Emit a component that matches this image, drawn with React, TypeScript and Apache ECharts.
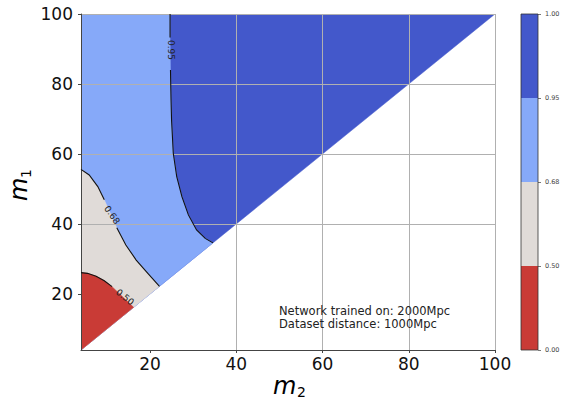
import React, { useEffect, useRef } from "react";
import * as echarts from "echarts";

// ---- data ----
const M_MIN = 4;
const M_MAX = 100;
const xTicks = [20, 40, 60, 80, 100];
const yTicks = [20, 40, 60, 80, 100];

const levelLabels = ["0.00", "0.50", "0.68", "0.95", "1.00"];
// band colours, lowest level first
const bandColors = ["#c93b36", "#e0dbd8", "#86a9f9", "#4358cb"];

// contour curves as [m2, m1] points
const contour95 = [
  [24.65, 100], [24.65, 93.3], [24.75, 84], [24.88, 75.4], [25.0, 69.7],
  [25.4, 60.2], [26.2, 53.5], [27.4, 47.8], [28.9, 42.6], [30.8, 38.3],
  [32.8, 35.9], [34.6, 34.6],
];
const contour68 = [
  [4, 55.6], [5.9, 54], [7.9, 50.7], [9.4, 46.9], [12.3, 38.9],
  [14.4, 34], [16.8, 29.7], [19.5, 25.9], [22.2, 22.2],
];
const contour50 = [
  [4, 26.1], [5.5, 25.9], [7.5, 25.1], [9.4, 23.8], [11.2, 22.1], [16.2, 16.2],
];

const contourLabels = [
  { text: "0.95", curve: contour95, gapFrom: 1, gapTo: 2, at: [24.9, 89.7], angle: -90 },
  { text: "0.68", curve: contour68, gapFrom: 3, gapTo: 4, at: [11.2, 42.6], angle: -55 },
  { text: "0.50", curve: contour50, gapFrom: 4, gapTo: 5, at: [14.2, 19.1], angle: -39 },
];

const annotation = ["Network trained on: 2000Mpc", "Dataset distance: 1000Mpc"];

const FONT = "DejaVu Sans";

// filled regions, drawn in order (each covers the previous)
const regions = [
  { color: bandColors[3], poly: [[M_MIN, M_MIN], [M_MIN, M_MAX], [M_MAX, M_MAX]] },
  { color: bandColors[2], poly: [[M_MIN, M_MIN], [M_MIN, M_MAX], ...contour95] },
  { color: bandColors[1], poly: [[M_MIN, M_MIN], ...contour68] },
  { color: bandColors[0], poly: [[M_MIN, M_MIN], ...contour50] },
];

export default function App() {
  const ref = useRef<HTMLDivElement>(null);
  useEffect(() => {
    if (!ref.current) return;
    const chart = echarts.init(ref.current, null, { renderer: "svg" });
    const option: any = {
      animation: false,
      backgroundColor: "#ffffff",
      grid: [
        { left: 81, top: 14, width: 414, height: 336 },
        { left: 521, top: 14, width: 17, height: 336 },
      ],
      xAxis: [
        {
          type: "value", gridIndex: 0, min: M_MIN, max: M_MAX, z: 3,
          axisLine: { show: true, lineStyle: { color: "#444", width: 1 } },
          axisTick: { show: true, length: 3, customValues: xTicks, lineStyle: { color: "#444" } },
          axisLabel: {
            customValues: xTicks, fontSize: 17, color: "#111", margin: 5, fontFamily: FONT,
            formatter: (v: number) => (xTicks.includes(v) ? String(v) : ""),
          },
          splitLine: { show: true, showMinLine: false, lineStyle: { color: "#b0b0b0", width: 1 } },
        },
        { type: "category", gridIndex: 1, data: ["c"], show: false },
      ],
      yAxis: [
        {
          type: "value", gridIndex: 0, min: M_MIN, max: M_MAX, z: 3,
          axisLine: { show: true, lineStyle: { color: "#444", width: 1 } },
          axisTick: { show: true, length: 3, customValues: yTicks, lineStyle: { color: "#444" } },
          axisLabel: {
            customValues: yTicks, fontSize: 17, color: "#111", margin: 8, fontFamily: FONT,
            formatter: (v: number) => (yTicks.includes(v) ? String(v) : ""),
          },
          splitLine: { show: true, showMinLine: false, lineStyle: { color: "#b0b0b0", width: 1 } },
        },
        {
          type: "value", gridIndex: 1, min: 0, max: 4, interval: 1, position: "right",
          axisLine: { show: false },
          axisTick: { show: true, length: 3, lineStyle: { color: "#555", width: 0.8 } },
          axisLabel: {
            fontSize: 6.5, color: "#444", margin: 7, fontFamily: FONT,
            formatter: (v: number) => levelLabels[v] ?? "",
          },
          splitLine: { show: false },
        },
      ],
      series: [
        {
          type: "custom", xAxisIndex: 0, yAxisIndex: 0, z: 1, clip: true,
          data: regions.map(() => [M_MIN, M_MIN]),
          renderItem: (params: any, api: any) => {
            const r = regions[params.dataIndex];
            const pts = r.poly.map((p) => api.coord(p));
            return {
              type: "polygon",
              shape: { points: pts },
              style: { fill: r.color, stroke: r.color, lineWidth: 0.5 },
            };
          },
        },
        {
          type: "custom", xAxisIndex: 0, yAxisIndex: 0, z: 5,
          data: contourLabels.map(() => [M_MIN, M_MIN]),
          renderItem: (params: any, api: any) => {
            const c = contourLabels[params.dataIndex];
            const pts = c.curve.map((p) => api.coord(p));
            const seg1 = pts.slice(0, c.gapFrom + 1);
            const seg2 = pts.slice(c.gapTo);
            const children: any[] = [];
            [seg1, seg2].forEach((s) => {
              if (s.length > 1)
                children.push({
                  type: "polyline",
                  shape: { points: s },
                  style: { stroke: "#111", lineWidth: 1.1, fill: null },
                });
            });
            const lp = api.coord(c.at);
            children.push({
              type: "text",
              x: lp[0], y: lp[1],
              rotation: (c.angle * Math.PI) / 180,
              style: {
                text: c.text, fontSize: 9, fill: "#222", fontFamily: FONT,
                align: "center", verticalAlign: "middle",
              },
            });
            return { type: "group", children };
          },
        },
        ...bandColors.map((col) => ({
          type: "bar", xAxisIndex: 1, yAxisIndex: 1, stack: "cb",
          barWidth: "100%", data: [1],
          itemStyle: { color: col },
        })),
      ],
      graphic: [
        {
          type: "rect", z: 100,
          shape: { x: 521, y: 14, width: 17, height: 336 },
          style: { fill: "none", stroke: "#333", lineWidth: 0.8 },
        },
        {
          type: "text", x: 279, y: 304.5, z: 100,
          style: {
            text: annotation.join("\n"), fontSize: 11.5, lineHeight: 13,
            fill: "#222", fontFamily: FONT, align: "left", verticalAlign: "top",
          },
        },
        {
          type: "text", x: 273, y: 386, z: 100,
          style: { text: "m", fontSize: 24, fontStyle: "italic", fill: "#000", fontFamily: FONT, align: "left", verticalAlign: "middle" },
        },
        {
          type: "text", x: 297, y: 392, z: 100,
          style: { text: "2", fontSize: 14, fill: "#000", fontFamily: FONT, align: "left", verticalAlign: "middle" },
        },
        {
          type: "text", x: 19, y: 201, z: 100, rotation: Math.PI / 2,
          style: { text: "m", fontSize: 24, fontStyle: "italic", fill: "#000", fontFamily: FONT, align: "left", verticalAlign: "middle" },
        },
        {
          type: "text", x: 26, y: 178, z: 100, rotation: Math.PI / 2,
          style: { text: "1", fontSize: 14, fill: "#000", fontFamily: FONT, align: "left", verticalAlign: "middle" },
        },
      ],
    };
    chart.setOption(option);
    return () => chart.dispose();
  }, []);
  return (
    <div
      ref={ref}
      style={{ position: "fixed", left: 0, top: 0, width: 565, height: 402 }}
    />
  );
}
